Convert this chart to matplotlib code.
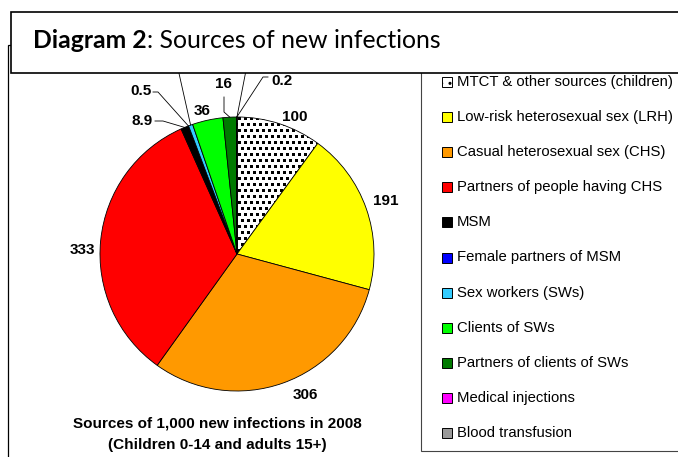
import numpy as np
import matplotlib
matplotlib.use('Agg')
import matplotlib.pyplot as plt
from matplotlib.patches import Rectangle

# data (values out of 1,000 new infections)
sources = ['MTCT & other sources (children)', 'Low-risk heterosexual sex (LRH)',
           'Casual heterosexual sex (CHS)', 'Partners of people having CHS',
           'MSM', 'Female partners of MSM', 'Sex workers (SWs)', 'Clients of SWs',
           'Partners of clients of SWs', 'Medical injections', 'Blood transfusion']
infections = [100, 191, 306, 333, 8.9, 0.5, 5, 36, 16, 0.2, 0.1]
value_labels = ['100', '191', '306', '333', '8.9', '0.5', '', '36', '16', '0.2', '']
colours = ['white', '#ffff00', '#ff9900', '#ff0000', '#000000', '#0000ff',
           '#33ccff', '#00ff00', '#007a00', '#ff00ff', '#999999']

W, H = 678, 457
fig = plt.figure(figsize=(W / 100, H / 100), dpi=100)

def fx(px):
    return px / W

def fy(py):
    return 1 - py / H

# pie centre and radius in pixels
cx, cy, R = 237, 254, 137
ax = fig.add_axes([fx(cx - R), fy(cy + R), 2 * R / W, 2 * R / H])
wedges, _ = ax.pie(infections, colors=colours, startangle=90, counterclock=False,
                   wedgeprops=dict(edgecolor='black', linewidth=0.6))
ax.set_xlim(-1, 1)
ax.set_ylim(-1, 1)
ax.set_aspect('auto')
ax.axis('off')

# dotted pattern for the MTCT slice
n = 2 * R
ii, jj = np.mgrid[0:n, 0:n]
pattern = ((ii % 6) < 3) & (((jj + 3 * ((ii // 6) % 2)) % 6) < 3)
wedges[0].set_facecolor('none')
im = ax.imshow(pattern.astype(float), cmap='gray_r', extent=(-1, 1, -1, 1),
               interpolation='nearest', zorder=0.9, vmin=0, vmax=1)
im.set_clip_path(wedges[0])

def to_data(px, py):
    return (px - cx) / R, (cy - py) / R

def mid_point(w, r=1.0):
    a = np.deg2rad((w.theta1 + w.theta2) / 2)
    return r * np.cos(a), r * np.sin(a)

lab_font = dict(fontsize=11, fontweight='bold', family='Liberation Sans',
                ha='center', va='center')

# label positions (pixels), and optional leader line bend points
label_px = [(295, 117), (386, 201), (305, 395), (82, 250), (142, 121),
            (141, 91), None, (202, 111), (223.5, 84.5), (281.5, 81), None]
leaders = {4: [(155, 121), (163, 121)],
           5: [(153, 92), (158, 92)],
           6: [(176, 60)],
           8: [(224, 97), (224, 112)],
           9: [(268, 77), (263, 77)],
           10: [(248, 60)]}

for i, w in enumerate(wedges):
    if label_px[i] is not None:
        x, y = to_data(*label_px[i])
        ax.text(x, y, value_labels[i], **lab_font)
    if i in leaders:
        pts = [to_data(*p) for p in leaders[i]] + [mid_point(w)]
        xs, ys = zip(*pts)
        ax.plot(xs, ys, color='black', lw=0.6, clip_on=False)

# chart frame and legend box
fig.patches.append(Rectangle((fx(8), fy(H + 10)), fx(W), fy(45) - fy(H + 10),
                             transform=fig.transFigure, facecolor='none',
                             edgecolor='black', lw=0.9, zorder=2))
fig.patches.append(Rectangle((fx(421), fy(451)), fx(W), fy(55) - fy(451),
                             transform=fig.transFigure, facecolor='white',
                             edgecolor='#444444', lw=0.8, zorder=2))

for i, (name, col) in enumerate(zip(sources, colours)):
    yc = 82 + i * 35.1
    sq = Rectangle((fx(441.5), fy(yc + 5)), fx(10), fy(yc - 5) - fy(yc + 5),
                   transform=fig.transFigure, facecolor=col, edgecolor='black',
                   lw=0.7, zorder=3)
    if i == 0:
        sq.set_hatch('..')
    fig.patches.append(sq)
    fig.text(fx(457), fy(yc), name, fontsize=10.7, family='Liberation Sans',
             ha='left', va='center', zorder=3)

# caption under the pie
fig.text(fx(217), fy(423), 'Sources of 1,000 new infections in 2008',
         fontsize=11, fontweight='bold', family='Liberation Sans',
         ha='center', va='center')
fig.text(fx(217), fy(445), '(Children 0-14 and adults 15+)',
         fontsize=11, fontweight='bold', family='Liberation Sans',
         ha='center', va='center')

# title box on top
fig.patches.append(Rectangle((fx(11), fy(73)), fx(W), fy(12) - fy(73),
                             transform=fig.transFigure, facecolor='white',
                             edgecolor='black', lw=1.2, zorder=10))
t1 = fig.text(fx(33), fy(48), 'Diagram 2', fontsize=17.8, fontweight='bold',
              family='Lato', ha='left', va='baseline', zorder=11)
renderer = fig.canvas.get_renderer()
bb = t1.get_window_extent(renderer)
fig.text(bb.x1 / W, fy(48), ': Sources of new infections', fontsize=17.8,
         family='Lato', ha='left', va='baseline', zorder=11)

fig.savefig('out.png', dpi=100)
